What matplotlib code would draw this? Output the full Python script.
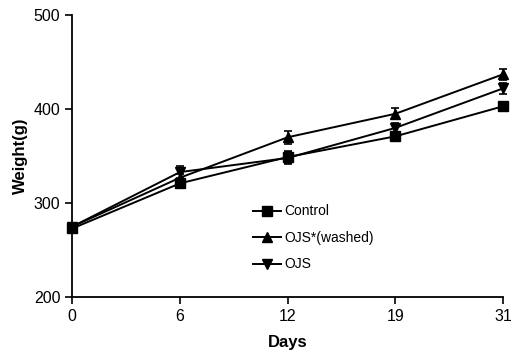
import matplotlib.pyplot as plt

plt.rcParams['font.family'] = ['Liberation Sans', 'DejaVu Sans']

days = ['0', '6', '12', '19', '31']
control = [273, 321, 349, 371, 403]
control_err = [4, 4, 6, 5, 5]
washed = [275, 327, 370, 395, 437]
washed_err = [4, 4, 7, 6, 6]
ojs = [275, 333, 348, 380, 422]
ojs_err = [4, 6, 6, 5, 6]

fig = plt.figure(figsize=(5.16, 3.58), dpi=100)
ax = fig.add_axes([0.14, 0.17, 0.835, 0.788])

x = range(len(days))
series = [
    (control, control_err, 's', 'Control'),
    (washed, washed_err, '^', 'OJS*(washed)'),
    (ojs, ojs_err, 'v', 'OJS'),
]
for vals, err, mk, lab in series:
    ax.errorbar(x, vals, yerr=err, color='black', marker=mk, markersize=6.5,
                linewidth=1.4, capsize=3, elinewidth=1.2, capthick=1.2,
                label=lab, clip_on=False, zorder=3)

ax.set_xlim(0, 4)
ax.set_ylim(200, 500)
ax.set_xticks(list(x))
ax.set_xticklabels(days)
ax.set_yticks([200, 300, 400, 500])

for side in ['top', 'right']:
    ax.spines[side].set_visible(False)
for side in ['left', 'bottom']:
    ax.spines[side].set_linewidth(1.3)
ax.tick_params(axis='both', labelsize=11.5, width=1.2, length=5, direction='out')

ax.set_xlabel('Days', fontsize=12, fontweight='bold', labelpad=8)
ax.set_ylabel('Weight(g)', fontsize=12, fontweight='bold', labelpad=4)

handles, labels = ax.get_legend_handles_labels()
handles = [h[0] for h in handles]
ax.legend(handles, labels, loc='center left', bbox_to_anchor=(0.39, 0.21),
          frameon=False, fontsize=10, handlelength=2.0, handletextpad=0.3,
          labelspacing=0.9)

fig.savefig('out.png', dpi=100)
